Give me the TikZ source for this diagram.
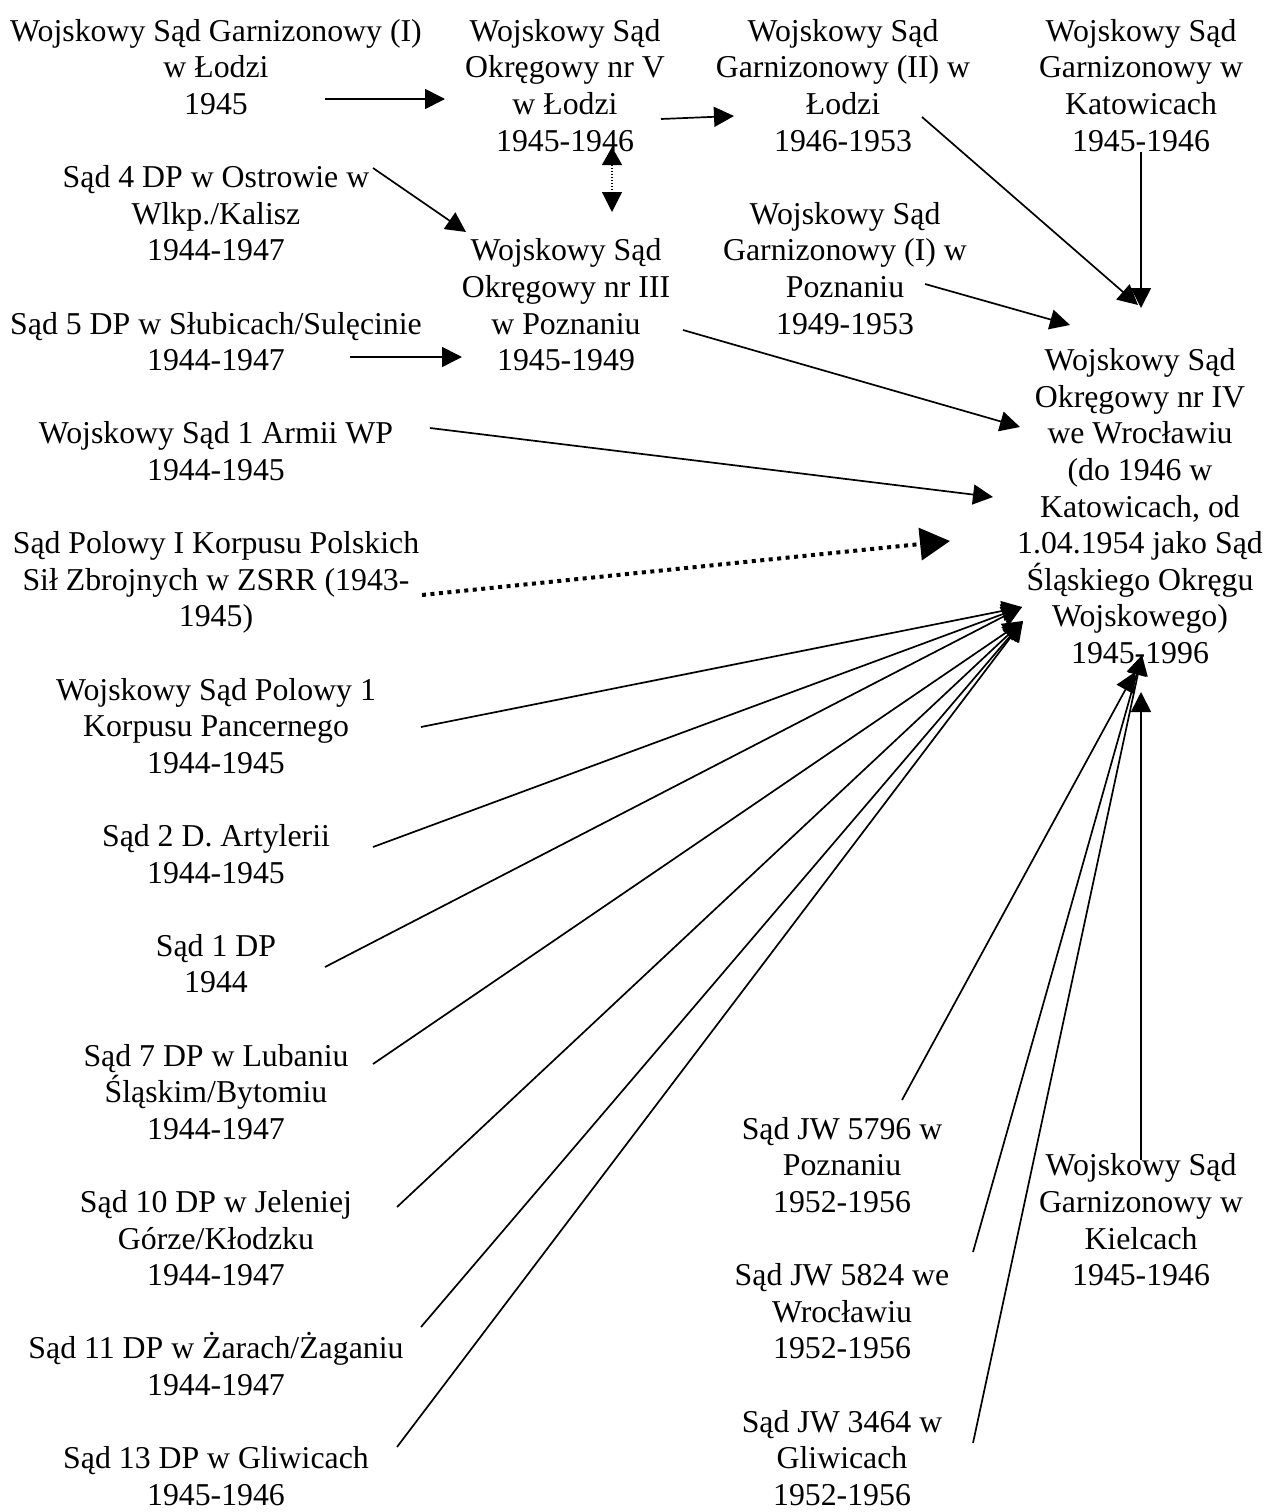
\documentclass[tikz,border=0pt]{standalone}
\usepackage{fontspec}
\setmainfont{Liberation Serif}
\usetikzlibrary{arrows.meta}
\newcommand\firststrut{\rule{0pt}{29pt}}
\begin{document}
\begin{tikzpicture}[x=1pt,y=-1pt,
  lbl/.style={anchor=north,inner sep=0pt,align=center,font=\fontsize{31.8}{36.6}\selectfont},
  arr/.style={line width=1.7pt,-{Triangle[length=20pt,width=20pt]}},
  dotarr/.style={line width=1.2pt,dash pattern=on 1.5pt off 1.5pt,{Triangle[length=18pt,width=20pt]}-{Triangle[length=20pt,width=20pt]}},
  thickdot/.style={line width=4pt,dash pattern=on 4pt off 4.5pt,-{Triangle[length=30pt,width=32pt]}}]
\useasboundingbox (0,0) rectangle (1269,1512);
\fill[white] (0,0) rectangle (1269,1512);

% nodes
\node[lbl] (n1)  at (216,{12+36.6*0})  {\firststrut Wojskowy Sąd Garnizonowy (I)\\w Łodzi\\1945};
\node[lbl] (n2)  at (565,{12+36.6*0})  {\firststrut Wojskowy Sąd\\Okręgowy nr V\\w Łodzi\\1945-1946};
\node[lbl] (n3)  at (843,{12+36.6*0})  {\firststrut Wojskowy Sąd\\Garnizonowy (II) w\\Łodzi\\1946-1953};
\node[lbl] (n4)  at (1141,{12+36.6*0}) {\firststrut Wojskowy Sąd\\Garnizonowy w\\Katowicach\\1945-1946};
\node[lbl] (n5)  at (216,{12+36.6*4})  {\firststrut Sąd 4 DP w Ostrowie w\\Wlkp./Kalisz\\1944-1947};
\node[lbl] (n6)  at (566,{12+36.6*6})  {\firststrut Wojskowy Sąd\\Okręgowy nr III\\w Poznaniu\\1945-1949};
\node[lbl] (n7)  at (845,{12+36.6*5})  {\firststrut Wojskowy Sąd\\Garnizonowy (I) w\\Poznaniu\\1949-1953};
\node[lbl] (n8)  at (216,{12+36.6*8})  {\firststrut Sąd 5 DP w Słubicach/Sulęcinie\\1944-1947};
\node[lbl] (n9)  at (1140,{12+36.6*9}) {\firststrut Wojskowy Sąd\\Okręgowy nr IV\\we Wrocławiu\\(do 1946 w\\Katowicach, od\\1.04.1954 jako Sąd\\Śląskiego Okręgu\\Wojskowego)\\1945-1996};
\node[lbl] (n10) at (216,{12+36.6*11}) {\firststrut Wojskowy Sąd 1 Armii WP\\1944-1945};
\node[lbl] (n11) at (216,{12+36.6*14}) {\firststrut Sąd Polowy I Korpusu Polskich\\Sił Zbrojnych w ZSRR (1943-\\1945)};
\node[lbl] (n12) at (216,{12+36.6*18}) {\firststrut Wojskowy Sąd Polowy 1\\Korpusu Pancernego\\1944-1945};
\node[lbl] (n13) at (216,{12+36.6*22}) {\firststrut Sąd 2 D. Artylerii\\1944-1945};
\node[lbl] (n14) at (216,{12+36.6*25}) {\firststrut Sąd 1 DP\\1944};
\node[lbl] (n15) at (216,{12+36.6*28}) {\firststrut Sąd 7 DP w Lubaniu\\Śląskim/Bytomiu\\1944-1947};
\node[lbl] (n16) at (216,{12+36.6*32}) {\firststrut Sąd 10 DP w Jeleniej\\Górze/Kłodzku\\1944-1947};
\node[lbl] (n17) at (216,{12+36.6*36}) {\firststrut Sąd 11 DP w Żarach/Żaganiu\\1944-1947};
\node[lbl] (n18) at (216,{12+36.6*39}) {\firststrut Sąd 13 DP w Gliwicach\\1945-1946};
\node[lbl] (n19) at (842,{12+36.6*30}) {\firststrut Sąd JW 5796 w\\Poznaniu\\1952-1956};
\node[lbl] (n20) at (842,{12+36.6*34}) {\firststrut Sąd JW 5824 we\\Wrocławiu\\1952-1956};
\node[lbl] (n21) at (842,{12+36.6*38}) {\firststrut Sąd JW 3464 w\\Gliwicach\\1952-1956};
\node[lbl] (n22) at (1141,{12+36.6*31}) {\firststrut Wojskowy Sąd\\Garnizonowy w\\Kielcach\\1945-1946};

% connector end points
\coordinate (a1s) at (325,99);   \coordinate (a1e) at (445,99);
\coordinate (a2s) at (661,119);  \coordinate (a2e) at (734,116);
\coordinate (c1)  at (612,147);  \coordinate (c2)  at (612,212);
\coordinate (d1s) at (373,168);  \coordinate (d1e) at (466,232);
\coordinate (e1s) at (350,357);  \coordinate (e1e) at (462,357);
\coordinate (f1s) at (922,117);  \coordinate (tipT) at (1138,305);
\coordinate (g1s) at (1141,152); \coordinate (g1e) at (1141,308);
\coordinate (h1s) at (925,284);  \coordinate (h1e) at (1070,325);
\coordinate (i1s) at (683,330);  \coordinate (i1e) at (1020,427);
\coordinate (j1s) at (430,428);  \coordinate (j1e) at (993,497);
\coordinate (k1s) at (422,595);  \coordinate (k1e) at (950,541);
\coordinate (tipU) at (1022,607);
\coordinate (tipL) at (1023,621);
\coordinate (s12) at (421,727);
\coordinate (s13) at (373,847);
\coordinate (s14) at (325,967);
\coordinate (s15) at (373,1064);
\coordinate (s16) at (397,1207);
\coordinate (s17) at (421,1327);
\coordinate (s18) at (397,1447);
\coordinate (s19) at (902,1100);
\coordinate (s20) at (973,1252);
\coordinate (s21) at (973,1443);
\coordinate (s22) at (1141,1160);
\coordinate (tipB1) at (1142,655);
\coordinate (tipB2) at (1135,672);
\coordinate (tipK) at (1141,692);

% connectors
\draw[arr] (a1s) -- (a1e);
\draw[arr] (a2s) -- (a2e);
\draw[dotarr] (c1) -- (c2);
\draw[arr] (d1s) -- (d1e);
\draw[arr] (e1s) -- (e1e);
\draw[arr] (f1s) -- (tipT);
\draw[arr] (g1s) -- (g1e);
\draw[arr] (h1s) -- (h1e);
\draw[arr] (i1s) -- (i1e);
\draw[arr] (j1s) -- (j1e);
\draw[thickdot] (k1s) -- (k1e);
\draw[arr] (s12) -- (tipU);
\draw[arr] (s13) -- (tipU);
\draw[arr] (s14) -- (tipU);
\draw[arr] (s15) -- (tipL);
\draw[arr] (s16) -- (tipL);
\draw[arr] (s17) -- (tipL);
\draw[arr] (s18) -- (tipL);
\draw[arr] (s19) -- (tipB2);
\draw[arr] (s20) -- (tipB1);
\draw[arr] (s21) -- (tipB1);
\draw[arr] (s22) -- (tipK);
\end{tikzpicture}
\end{document}
